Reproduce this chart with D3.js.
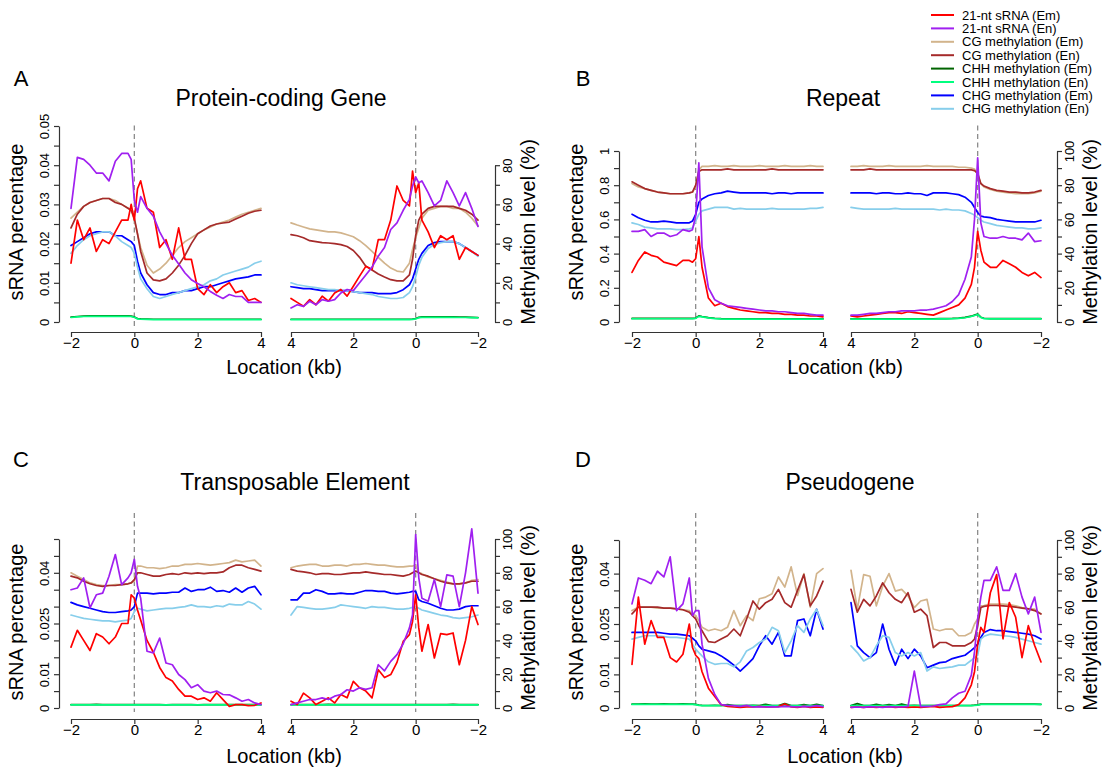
<!DOCTYPE html>
<html>
<head>
<meta charset="utf-8">
<title>21-nt sRNA and DNA methylation profiles</title>
<script src="https://cdn.jsdelivr.net/npm/d3@7/dist/d3.min.js"></script>
<style>
  body { margin: 0; background: #fff; }
  text { font-family: "Liberation Sans", Arial, Helvetica, sans-serif; fill: #000; }
  .axis path, .axis line { stroke: #333; stroke-width: 1.2; fill: none; }
  .series { fill: none; stroke-width: 1.7; stroke-linejoin: round; stroke-linecap: round; }
  .center { stroke: #8c8c8c; stroke-width: 1.3; stroke-dasharray: 5,3.5; }
</style>
</head>
<body>
<svg id="chart" width="1107" height="774"></svg>
<script>
// ---- locations (kb) : 5' side (-2 .. 4) and 3' side (4 .. -2)
const xsL = [-2,-1.8,-1.6,-1.4,-1.2,-1,-0.8,-0.6,-0.4,-0.2,-0.1,0,0.1,0.2,0.4,0.6,0.8,1,1.2,1.4,1.6,1.8,2,2.2,2.4,2.6,2.8,3,3.2,3.4,3.6,3.8,4];
const xsR = [4,3.8,3.6,3.4,3.2,3,2.8,2.6,2.4,2.2,2,1.8,1.6,1.4,1.2,1,0.8,0.6,0.4,0.2,0.1,0,-0.1,-0.2,-0.4,-0.6,-0.8,-1,-1.2,-1.4,-1.6,-1.8,-2];

const seriesLabels = ["21-nt sRNA (Em)", "21-nt sRNA (En)", "CG methylation (Em)", "CG methylation (En)",
  "CHH methylation (Em)", "CHH methylation (En)", "CHG methylation (Em)", "CHG methylation (En)"];
const seriesColors = ["#ff0000", "#a020f0", "#d2b48c", "#a52a2a", "#006400", "#00ff7f", "#0000ff", "#87ceeb"];

const xTickVals = [-2, 0, 2, 4];
const xTickLabels = ["\u22122", "0", "2", "4"];

// ---- A: protein-coding gene
const geneSrnaEmL = [0.015,0.026,0.021,0.024,0.018,0.021,0.020,0.023,0.026,0.026,0.030,0.026,0.034,0.036,0.029,0.028,0.019,0.021,0.016,0.024,0.016,0.016,0.0085,0.007,0.0095,0.0075,0.009,0.010,0.0075,0.008,0.0055,0.006,0.005];
const geneSrnaEnL = [0.029,0.042,0.0415,0.040,0.038,0.038,0.036,0.041,0.043,0.043,0.0415,0.031,0.028,0.032,0.029,0.027,0.023,0.020,0.017,0.0148,0.0125,0.0108,0.0098,0.009,0.0078,0.0068,0.006,0.007,0.0065,0.0065,0.005,0.005,0.005];
const geneCgEmL = [53,56,59,61,62,63,63,62,60,58,57,52,45,38,29,25,27,30,34,38,41,43,45,47,48.5,50,51,52,53.5,55,56,57,58];
const geneCgEnL = [48,55,59,61,62,63,63,61,60,58,57,53,45,36,25,21.5,21,22,25,29,34,40,45,47,49,50,50.5,51,52.5,54,55.5,56.5,57];
const geneChhEmL = [2.5,2.8,3,3.1,3.1,3.1,3.1,3.1,3.1,3.1,3,2.6,1.8,1.6,1.5,1.4,1.4,1.4,1.4,1.4,1.4,1.4,1.4,1.4,1.4,1.4,1.4,1.4,1.4,1.4,1.4,1.4,1.4];
const geneChhEnL = [2.3,2.6,2.8,2.9,2.9,2.9,2.9,2.9,2.9,2.9,2.8,2.4,1.6,1.4,1.3,1.2,1.2,1.2,1.2,1.2,1.2,1.2,1.2,1.2,1.2,1.2,1.2,1.2,1.2,1.2,1.2,1.2,1.2];
const geneChgEmL = [39,41,43,45,46,46,46,44,44,42,41,39,31,25,19,15,14,14,15,15,16,16,17,18,18,19,20,21,22,22.5,23,24,24];
const geneChgEnL = [35,39,42,44,45,46,46,44,41,39,38,35,28,22,17,13,12,13,14,15,16,17,18,19,21,22,24,25,26,27,28,30,31];
const geneSrnaEmR = [0.006,0.005,0.004,0.0057,0.0044,0.0066,0.0053,0.0074,0.0083,0.0066,0.0091,0.0117,0.0142,0.0134,0.021,0.021,0.026,0.0347,0.031,0.0296,0.0385,0.033,0.0355,0.026,0.023,0.019,0.022,0.021,0.022,0.016,0.019,0.018,0.017];
const geneSrnaEnR = [0.0036,0.0044,0.004,0.0053,0.0044,0.0057,0.0053,0.0057,0.0074,0.0083,0.008,0.010,0.012,0.014,0.0168,0.019,0.0236,0.0253,0.0285,0.0313,0.0347,0.037,0.0355,0.036,0.033,0.0296,0.031,0.036,0.033,0.0296,0.033,0.029,0.0244];
const geneCgEmR = [50.6,49.5,48.5,47.5,47,46.5,46,46,45.5,44.5,43.5,41.5,39,36,33,30,27.5,26,25.5,30,37,43,48,53,57,58,59,59,58,58,56,53,49];
const geneCgEnR = [44.6,44,43,41.5,41,40.5,40.3,40,39.5,38.5,36.5,33,28.5,26.5,24.5,23,21.6,21,21,24,32,44,52,55,58,59,59,59,59,58,57,55,52];
const geneChhEmR = [1.4,1.4,1.4,1.4,1.4,1.4,1.4,1.4,1.4,1.4,1.4,1.4,1.4,1.4,1.4,1.4,1.4,1.4,1.4,1.4,1.5,1.8,2.4,2.6,2.6,2.6,2.6,2.6,2.6,2.5,2.5,2.4,2.3];
const geneChhEnR = [1.2,1.2,1.2,1.2,1.2,1.2,1.2,1.2,1.2,1.2,1.2,1.2,1.2,1.2,1.2,1.2,1.2,1.2,1.2,1.2,1.3,1.6,2.2,2.4,2.4,2.4,2.4,2.4,2.4,2.3,2.3,2.2,2.1];
const geneChgEmR = [18,17.5,17,17,16.5,16,16,16,16,16,15.5,15,15,15,14.5,14.5,14.5,15,16.5,19,22,27,32,35,39,40.5,41,41,41,40,38,36,34];
const geneChgEnR = [20,19,18.5,18,17.5,17,16.5,16.5,16,16,15.5,15,14.5,14,13,12.5,12,12,12.5,15,18,23,29,33,37.5,39.5,40.5,41,41,40,38,36,33.5];

// ---- B: repeat
const repSrnaEmL = [0.29,0.36,0.41,0.39,0.38,0.35,0.34,0.33,0.36,0.36,0.35,0.37,0.50,0.32,0.14,0.095,0.11,0.09,0.08,0.07,0.065,0.06,0.055,0.055,0.05,0.05,0.045,0.045,0.04,0.04,0.035,0.035,0.03];
const repSrnaEnL = [0.53,0.53,0.54,0.50,0.52,0.52,0.50,0.51,0.54,0.53,0.54,0.62,0.93,0.44,0.20,0.13,0.11,0.095,0.09,0.085,0.08,0.075,0.07,0.065,0.065,0.06,0.06,0.055,0.05,0.05,0.045,0.04,0.04];
const repCgEmL = [81,79,78,77,76,75.5,75,75,75,75.5,76,79,89,91,91,91.5,91,91,91.5,91,91,91,91.5,91,91,91,91.5,91,91,91,91.5,91,91];
const repCgEnL = [82,80,78,77,76,75.5,75,75,75,75.5,76,80,88,89,89,89,89,89.5,89,89,89,89,89,89,89.5,89,89,89,89,89,89,89,89];
const repChhEmL = [2.1,2.1,2.1,2.1,2.1,2.1,2.1,2.1,2.1,2.1,2.1,2.3,3.6,3.2,2.6,2.2,2,1.9,1.9,1.9,1.9,1.9,1.9,1.9,1.9,1.9,1.9,1.9,1.9,1.9,1.9,1.9,1.9];
const repChhEnL = [1.9,1.9,1.9,1.9,1.9,1.9,1.9,1.9,1.9,1.9,1.9,2.1,3.3,3,2.4,2,1.8,1.7,1.7,1.7,1.7,1.7,1.7,1.7,1.7,1.7,1.7,1.7,1.7,1.7,1.7,1.7,1.7];
const repChgEmL = [63,61,59.5,58.5,58.5,59,58.5,58,58,58,59,63,70,72,74,75,75.5,76.5,76,75.5,75.5,75.5,75.5,75.5,75,75.5,75.5,75,75.5,75.5,75.5,75.5,75.5];
const repChgEnL = [58,57,55.5,55,54.5,54.5,54.5,54,54,54.5,55,59,63,65,66,67,67,67,66,66.5,66,66,66,66,66.5,66,66,66,66,66,66.5,66.5,67];
const repSrnaEmR = [0.035,0.03,0.035,0.04,0.045,0.05,0.055,0.055,0.05,0.06,0.055,0.05,0.045,0.04,0.055,0.07,0.085,0.10,0.14,0.22,0.32,0.53,0.42,0.35,0.32,0.32,0.36,0.34,0.32,0.29,0.27,0.29,0.26];
const repSrnaEnR = [0.04,0.04,0.045,0.05,0.05,0.055,0.06,0.06,0.065,0.065,0.065,0.07,0.07,0.075,0.085,0.095,0.12,0.16,0.25,0.38,0.60,0.96,0.58,0.50,0.49,0.49,0.50,0.49,0.49,0.48,0.52,0.47,0.475];
const repCgEmR = [91,91,91.5,91,91,91,91.5,91,91,91,91,91,91.5,91,91,91,91,90.5,90.5,90,89.5,86,81,79,77.5,76.5,76,75.5,75,75,75,75.5,76.5];
const repCgEnR = [89,89,89,89.5,89,89,89,89,89,89,89,89,89,89,89,89,89,89,89,89,88.5,87,81,79.5,78,77,76.5,76,76,75.5,75.5,76,77];
const repChhEmR = [1.9,1.9,1.9,1.9,1.9,1.9,1.9,1.9,1.9,1.9,1.9,1.9,1.9,1.9,2,2,2.1,2.3,2.7,3.4,4,4.6,2.8,2.2,2,2,2,2,2,2,2,2,2];
const repChhEnR = [1.7,1.7,1.7,1.7,1.7,1.7,1.7,1.7,1.7,1.7,1.7,1.7,1.7,1.7,1.8,1.8,1.9,2.1,2.5,3.2,3.8,4.4,2.6,2,1.8,1.8,1.8,1.8,1.8,1.8,1.8,1.8,1.8];
const repChgEmR = [75.5,75.5,75.5,75.5,75,75.5,75.5,75,75,75.5,75,75,74,75.5,75.5,75.5,75,74.5,73,70,67,64,62,61.5,61,60,59.5,59,58.5,58.5,58.5,58.5,59.5];
const repChgEnR = [67,66.5,66,66,66,66,66,66.5,66,66,66,66,66,66,65.5,66,65.5,65.5,65,63.5,62.5,61,59.5,58.5,57.5,56.5,56,55.5,55,55,54.5,54.5,55];

// ---- C: transposable element
const teSrnaEmL = [0.018,0.023,0.020,0.017,0.022,0.021,0.019,0.021,0.025,0.025,0.0335,0.0325,0.029,0.026,0.020,0.0165,0.012,0.009,0.008,0.0055,0.0035,0.0035,0.0025,0.003,0.002,0.0045,0.0025,0.0005,0.001,0.001,0.0007,0.0008,0.0015];
const teSrnaEnL = [0.035,0.0355,0.0385,0.0296,0.0335,0.034,0.039,0.0454,0.0365,0.0385,0.040,0.044,0.036,0.0325,0.0168,0.0163,0.0207,0.0133,0.0128,0.0099,0.0084,0.006,0.0069,0.005,0.0045,0.005,0.004,0.0039,0.003,0.002,0.0025,0.0015,0.001];
const teCgEmL = [80,78,76,74,73,72.5,72.5,73,73,73.5,74,75,84,84,83,83,82.5,83,84,84,85,85,85.5,85,84.5,85,85.5,86,87.5,86.5,87,87.5,84];
const teCgEnL = [78,77,75,73.5,72.5,72,72.5,72.5,73,73.5,74,76,80,80,79,78,78,79,79.5,79,80,79.5,80,79.5,80,80,80.5,83,84.5,84.5,83,82,81];
const teChhEmL = [2,2,2,2,2.1,2,2,2,2,2,2,2,2,2,2,2,2,1.9,2,2,2,2,1.9,2,2,2,2,2,2,2,2,2,2];
const teChhEnL = [1.8,1.8,1.8,1.8,1.8,1.8,1.8,1.8,1.8,1.8,1.8,1.8,1.8,1.8,1.8,1.8,1.8,1.8,1.8,1.8,1.8,1.8,1.8,1.8,1.8,1.8,1.8,1.8,1.8,1.8,1.8,1.8,1.8];
const teChgEmL = [62.5,61,60,59,58,57,56.5,56.5,57,57.5,58,60,68,68,68,67.5,68,68,68.5,68.5,71,69,70,70,71.5,69,69.5,68.5,71,68.5,71,72,67];
const teChgEnL = [55,54,53,52.5,52,51.5,51.5,51,51.5,52,53,57,59,58.5,57.5,58,58.5,59,59,59.5,60,61,60,60,59.5,60.5,60,61.5,61,61,63,61.5,58.5];
const teSrnaEmR = [0.002,0.001,0.0044,0.003,0.001,0.002,0.003,0.0015,0.004,0.003,0.0079,0.006,0.005,0.003,0.0113,0.009,0.0099,0.0135,0.0197,0.0217,0.0256,0.0335,0.0237,0.0168,0.0247,0.0148,0.022,0.0217,0.0222,0.0128,0.020,0.030,0.0247];
const teSrnaEnR = [0.001,0.0015,0.002,0.0025,0.0025,0.003,0.0025,0.0035,0.004,0.0054,0.005,0.006,0.0055,0.006,0.0128,0.011,0.0138,0.0158,0.019,0.0237,0.0276,0.0513,0.0385,0.0325,0.0316,0.038,0.030,0.0394,0.039,0.030,0.040,0.053,0.034];
const teCgEmR = [83,84,84.5,85,85,84,84,84.5,84.5,84,85,85,85.5,85,84.5,84.5,84,83.5,83.5,84,84,84.5,80,79.5,77.5,76.5,75.5,74.5,73.5,73.5,74,75.5,76];
const teCgEnR = [82,81,80.5,80,79,79.5,79.5,79,79,79.5,80,80,80.5,80,79.5,79,79,78.5,78,79,80,81,80,79,78,76.5,75,74,73.5,73.5,74,75,75];
const teChhEmR = [2,2,2,2,2,2,2.1,2,2,2,2,2,2,2,2,2,2,2,2,2,2,2,2,2,2,2,2,2,2.1,2,2,2,2];
const teChhEnR = [1.8,1.8,1.8,1.8,1.8,1.8,1.8,1.8,1.8,1.8,1.8,1.8,1.8,1.8,1.8,1.8,1.8,1.8,1.8,1.8,1.8,1.8,1.8,1.8,1.8,1.8,1.8,1.8,1.8,1.8,1.8,1.8,1.8];
const teChgEmR = [64,64,68,68,70,69,67.5,67.5,68,67.5,67.5,68.5,69.5,69.5,69,69,68,67.5,68,68.5,69,69,64,63,62,60.5,59,58,58,58.5,60,60.5,60.5];
const teChgEnR = [55,60,59.5,59,58.5,58.5,59,59.5,61,60.5,60,59.5,59,60,59.5,59.5,59,58.5,58.5,59,59.5,60,59,58,57,56,55,54.5,53.5,53,53.5,54,55];

// ---- D: pseudogene
const pseudoSrnaEmL = [0.013,0.033,0.019,0.026,0.021,0.021,0.015,0.0137,0.016,0.025,0.018,0.0157,0.0147,0.0108,0.0059,0.0034,0.001,0.0005,0.0003,0.0002,0.0003,0.0003,0.0005,0.0003,0.0003,0.0004,0.0012,0.0003,0.0002,0.0005,0.0002,0.0003,0.0002];
const pseudoSrnaEnL = [0.031,0.0387,0.038,0.037,0.0407,0.039,0.045,0.029,0.031,0.0387,0.0275,0.029,0.029,0.019,0.0088,0.004,0.001,0.0008,0.0007,0.0005,0.0008,0.0003,0.0004,0.0003,0.0004,0.0003,0.0005,0.0004,0.0003,0.0005,0.0004,0.0007,0.0004];
const pseudoCgEmL = [58,60,60,60,59.5,59.5,59.5,59,58.5,58,56,55,52,48,46,47,46,48,58,49,55,52,65,66,68,78,72,84,67,80,60,80,83];
const pseudoCgEnL = [56,60,60,60,60,59.5,59.5,59,58.5,57,55,53,49,46,39.5,39,41,43,47,43,53,63.7,58.8,62.7,64.7,70.6,62.7,60,70,79.4,60.8,66.7,75.5];
const pseudoChhEmL = [2.3,2.3,2.4,2.3,2.3,2.4,2.3,2.3,2.5,2.3,2.3,2.2,1.8,1.6,1.5,1.6,1.5,2,1.5,1.4,1.5,1.6,1.5,2.2,1.5,1.5,2.6,1.5,1.5,2,1.5,2.2,1.5];
const pseudoChhEnL = [2.1,2.1,2.1,2.1,2.1,2.1,2.1,2.1,2.1,2.1,2.1,2,1.6,1.4,1.4,1.4,1.4,1.4,1.4,1.4,1.4,1.4,1.4,1.4,1.4,1.4,1.4,1.4,1.4,1.4,1.4,1.4,1.4];
const pseudoChgEmL = [45,45,45,45,45,44.5,44,44,43.5,43,41.5,40,37,35,34,33,31,28.4,25.5,22,25.5,29.4,37,43,38,45,31,31,52,53,43,58.8,47];
const pseudoChgEnL = [41,42,43,43,43,42.5,42,42,41.5,41,38,35,33,31,27.5,26,26.5,26.5,24.5,27.5,34,36,39,41,48,46,33,40,49,45,53,58.8,49];
const pseudoSrnaEmR = [0.0002,0.0003,0.0002,0.0003,0.0002,0.0003,0.0004,0.0002,0.0003,0.0002,0.0003,0.0002,0.0003,0.0005,0.0002,0.0003,0.0004,0.001,0.003,0.0069,0.0108,0.019,0.024,0.0225,0.0343,0.0397,0.0206,0.0314,0.027,0.015,0.0245,0.0186,0.0137];
const pseudoSrnaEnR = [0.0002,0.0003,0.0002,0.0004,0.0003,0.0002,0.0004,0.0003,0.0003,0.0005,0.011,0.0004,0.0005,0.0006,0.001,0.0012,0.003,0.0044,0.005,0.0098,0.0167,0.0265,0.033,0.038,0.038,0.042,0.035,0.035,0.040,0.033,0.028,0.033,0.0225];
const pseudoCgEmR = [82,58.8,79.4,78.4,60.8,72.5,80,69.6,70.6,66.7,59.8,63.7,64.7,47,46,47,47,43,43,45,50,53,60.8,61,61.8,61.8,61.8,61.5,60.8,59.8,59.2,58.8,56];
const pseudoCgEnR = [70.6,57,64.7,60.8,66.7,74.5,68.6,64.7,62.7,68.6,57,58.8,55,36,39,39,37,37,37,39,41,49,59.8,60.5,61,61,60.8,60.5,60,59.5,59,58,56];
const pseudoChhEmR = [1.5,2.6,1.5,1.5,2.2,1.5,2,1.5,2.4,1.5,1.6,1.5,1.5,1.5,1.5,1.5,1.5,1.5,1.5,1.6,1.7,1.9,2.3,2.3,2.3,2.3,2.3,2.3,2.3,2.3,2.3,2.3,2.2];
const pseudoChhEnR = [1.4,1.4,1.4,1.4,1.4,1.4,1.4,1.4,1.4,1.4,1.4,1.4,1.4,1.4,1.4,1.4,1.4,1.4,1.4,1.4,1.5,1.7,2.1,2.1,2.1,2.1,2.1,2.1,2.1,2.1,2.1,2.1,2.1];
const pseudoChgEmR = [62.7,37,33,30,33,50,35,25.5,35,29.4,35,31,24,25.5,27,27.5,29.4,30.4,31.4,34.3,36,38,42,45,46.7,46,46,45.5,45,44.5,44,43,41];
const pseudoChgEnR = [37,33,28,30,37,43,42,33,31,33,31,33,22,24.5,23.5,24,24.5,25.5,25.5,28.4,30,31.4,41,42.7,44,43.5,43,42.7,42,41,40,39,38];

// ---- axis ticks and labels
const geneSrnaTicks = [0,0.005,0.01,0.015,0.02,0.025,0.03,0.035,0.04,0.045,0.05];
const geneSrnaTickLabels = ["0","","0.01","","0.02","","0.03","","0.04","","0.05"];
const repSrnaTicks = [0,0.1,0.2,0.3,0.4,0.5,0.6,0.7,0.8,0.9,1];
const repSrnaTickLabels = ["0","","0.2","","0.4","","0.6","","0.8","","1"];
const otherSrnaTicks = [0,0.005,0.01,0.015,0.02,0.025,0.03,0.035,0.04,0.045,0.05];
const otherSrnaTickLabels = ["0","","0.01","","","0.025","","","0.04","",""];
const geneMethTicks = [0,10,20,30,40,50,60,70,80];
const geneMethTickLabels = ["0","","20","","40","","60","","80"];
const methTicks = [0,10,20,30,40,50,60,70,80,90,100];
const methTickLabels = ["0","","20","","40","","60","","80","","100"];

// ---- layout
const cols = [
  { axisL: 59, xL: [71, 261], xR: [291, 478], axisR: 495, locX: 284, letterX: 21 },
  { axisL: 619, xL: [632, 823], xR: [851, 1041], axisR: 1057, locX: 845, letterX: 583 }
];
const rows = [
  { y0: 322, xAxisY: 332, dashTop: 125.5, titleY: 106, locY: 374, letterY: 86, sLabelY: 222, mLabelY: 232 },
  { y0: 708, xAxisY: 719, dashTop: 513, titleY: 490, locY: 763, letterY: 467, sLabelY: 622, mLabelY: 618 }
];

const panels = [
  { letter: "A", title: "Protein-coding Gene", col: 0, row: 0, titleX: 281, yTop: 126, sMax: 0.05, mMax: 80,
    sTicks: geneSrnaTicks, sLabels: geneSrnaTickLabels, mTicks: geneMethTicks, mLabels: geneMethTickLabels,
    left: [geneSrnaEmL, geneSrnaEnL, geneCgEmL, geneCgEnL, geneChhEmL, geneChhEnL, geneChgEmL, geneChgEnL],
    right: [geneSrnaEmR, geneSrnaEnR, geneCgEmR, geneCgEnR, geneChhEmR, geneChhEnR, geneChgEmR, geneChgEnR] },
  { letter: "B", title: "Repeat", col: 1, row: 0, titleX: 843, yTop: 151, sMax: 1, mMax: 100,
    sTicks: repSrnaTicks, sLabels: repSrnaTickLabels, mTicks: methTicks, mLabels: methTickLabels,
    left: [repSrnaEmL, repSrnaEnL, repCgEmL, repCgEnL, repChhEmL, repChhEnL, repChgEmL, repChgEnL],
    right: [repSrnaEmR, repSrnaEnR, repCgEmR, repCgEnR, repChhEmR, repChhEnR, repChgEmR, repChgEnR] },
  { letter: "C", title: "Transposable Element", col: 0, row: 1, titleX: 295, yTop: 539, sMax: 0.05, mMax: 100,
    sTicks: otherSrnaTicks, sLabels: otherSrnaTickLabels, mTicks: methTicks, mLabels: methTickLabels,
    left: [teSrnaEmL, teSrnaEnL, teCgEmL, teCgEnL, teChhEmL, teChhEnL, teChgEmL, teChgEnL],
    right: [teSrnaEmR, teSrnaEnR, teCgEmR, teCgEnR, teChhEmR, teChhEnR, teChgEmR, teChgEnR] },
  { letter: "D", title: "Pseudogene", col: 1, row: 1, titleX: 850, yTop: 540, sMax: 0.05, mMax: 100,
    sTicks: otherSrnaTicks, sLabels: otherSrnaTickLabels, mTicks: methTicks, mLabels: methTickLabels,
    left: [pseudoSrnaEmL, pseudoSrnaEnL, pseudoCgEmL, pseudoCgEnL, pseudoChhEmL, pseudoChhEnL, pseudoChgEmL, pseudoChgEnL],
    right: [pseudoSrnaEmR, pseudoSrnaEnR, pseudoCgEmR, pseudoCgEnR, pseudoChhEmR, pseudoChhEnR, pseudoChgEmR, pseudoChgEnR] }
];

// methylation first, sRNA on top
const drawOrder = [2, 3, 6, 7, 4, 5, 0, 1];

panels.forEach(p => {
  [...p.left, ...p.right].forEach((a, i) => {
    if (a.length !== xsL.length) throw new Error("bad length in panel " + p.letter + " series " + i + ": " + a.length);
  });
});

const svg = d3.select("#chart");

function styleYText(axisG, offset) {
  axisG.attr("font-size", null).attr("font-family", null);
  axisG.selectAll(".tick text")
    .attr("transform", "rotate(-90)")
    .attr("x", 0)
    .attr("y", offset)
    .attr("dy", null)
    .attr("text-anchor", "middle")
    .style("font-size", "13px");
}

function drawPanel(p) {
  const c = cols[p.col], r = rows[p.row];
  const g = svg.append("g");

  const xL = d3.scaleLinear().domain([-2, 4]).range(c.xL);
  const xR = d3.scaleLinear().domain([4, -2]).range(c.xR);
  const yS = d3.scaleLinear().domain([0, p.sMax]).range([r.y0, p.yTop]);
  const yM = d3.scaleLinear().domain([0, 100]).range([r.y0, p.yTop]);

  // dashed lines at the boundaries
  [xL(0), xR(0)].forEach(x => {
    g.append("line").attr("class", "center")
      .attr("x1", x).attr("x2", x)
      .attr("y1", r.dashTop).attr("y2", r.y0 + 4);
  });

  const halves = [{ x: xL, xs: xsL, data: p.left }, { x: xR, xs: xsR, data: p.right }];
  halves.forEach(h => {
    drawOrder.forEach(i => {
      const y = i < 2 ? yS : yM;
      const line = d3.line()
        .x((v, j) => h.x(h.xs[j]))
        .y(v => y(v));
      g.append("path")
        .attr("class", "series")
        .attr("stroke", seriesColors[i])
        .attr("d", line(h.data[i]));
    });
  });

  // x axes
  [xL, xR].forEach(x => {
    const ax = g.append("g").attr("class", "axis")
      .attr("transform", `translate(0,${r.xAxisY})`)
      .call(d3.axisBottom(x).tickValues(xTickVals).tickSize(5).tickSizeOuter(0)
        .tickFormat((d, i) => xTickLabels[i]));
    ax.attr("font-size", null).attr("font-family", null);
    ax.selectAll(".tick text").attr("y", 5).style("font-size", "15px");
  });

  // left axis (sRNA)
  const axL = g.append("g").attr("class", "axis")
    .attr("transform", `translate(${c.axisL},0)`)
    .call(d3.axisLeft(yS).tickValues(p.sTicks).tickSize(5).tickSizeOuter(0)
      .tickFormat((d, i) => p.sLabels[i]));
  styleYText(axL, -10);

  // right axis (methylation)
  const yMAxis = d3.scaleLinear().domain([0, p.mMax]).range([r.y0, yM(p.mMax)]);
  const axR = g.append("g").attr("class", "axis")
    .attr("transform", `translate(${c.axisR},0)`)
    .call(d3.axisRight(yMAxis).tickValues(p.mTicks).tickSize(5).tickSizeOuter(0)
      .tickFormat((d, i) => p.mLabels[i]));
  styleYText(axR, 17);

  // titles and labels
  g.append("text").attr("x", c.letterX).attr("y", r.letterY)
    .attr("text-anchor", "middle").style("font-size", "22px").text(p.letter);
  g.append("text").attr("x", p.titleX).attr("y", r.titleY)
    .attr("text-anchor", "middle").style("font-size", "23px").text(p.title);
  g.append("text").attr("x", c.locX).attr("y", r.locY)
    .attr("text-anchor", "middle").style("font-size", "20px").text("Location (kb)");
  g.append("text")
    .attr("transform", `translate(${c.axisL - 36},${r.sLabelY}) rotate(-90)`)
    .attr("text-anchor", "middle").style("font-size", "20px").text("sRNA percentage");
  g.append("text")
    .attr("transform", `translate(${c.axisR + 40},${r.mLabelY}) rotate(-90)`)
    .attr("text-anchor", "middle").style("font-size", "20px").text("Methylation level (%)");
}

panels.forEach(drawPanel);

// legend
const legend = svg.append("g").attr("transform", "translate(931,15)");
seriesLabels.forEach((name, i) => {
  const row = legend.append("g").attr("transform", `translate(0,${i * 13.4})`);
  row.append("line").attr("x1", 0).attr("x2", 23).attr("y1", 0).attr("y2", 0)
    .attr("stroke", seriesColors[i]).attr("stroke-width", 2);
  row.append("text").attr("x", 31).attr("y", 4.6).style("font-size", "13px").text(name);
});
</script>
</body>
</html>
